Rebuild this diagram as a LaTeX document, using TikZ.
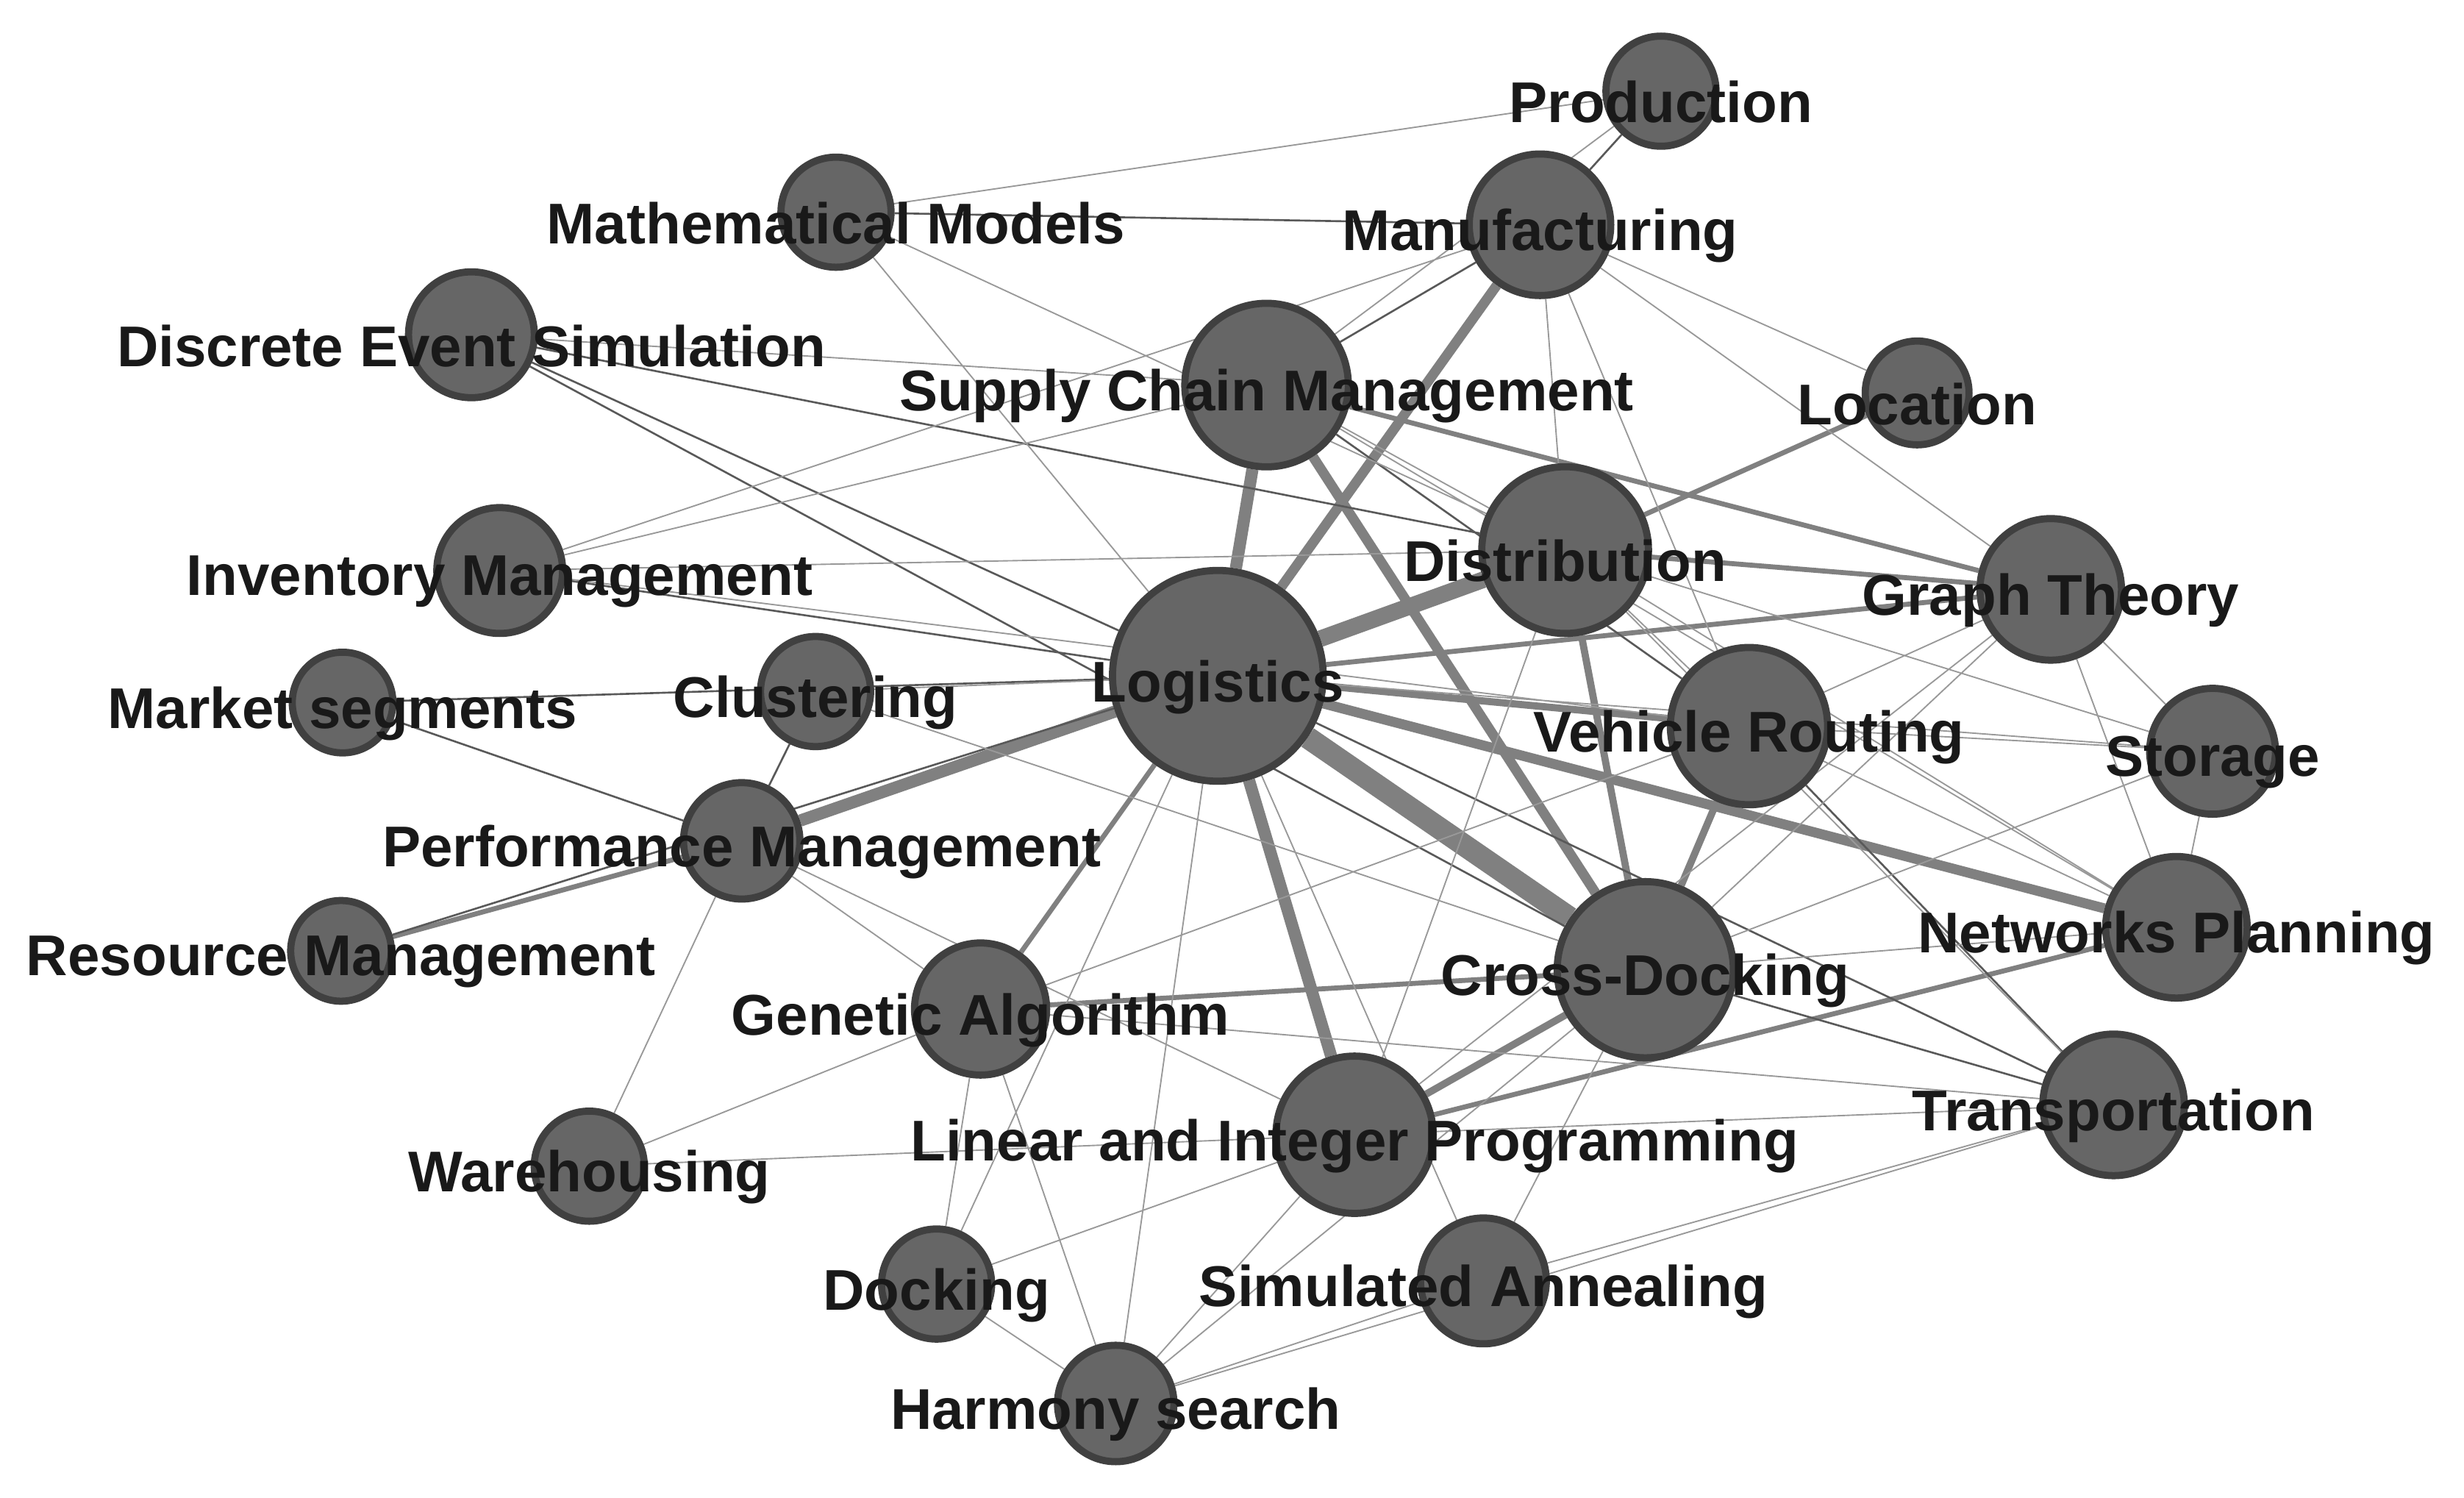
\documentclass[tikz,border=0pt]{standalone}
\usepackage{fontspec}
\setmainfont{Liberation Sans}
\usetikzlibrary{backgrounds}
\begin{document}
\begin{tikzpicture}[x=0.01cm,y=-0.01cm,
  v/.style={circle,fill=black!60,draw=black!75,line width=1.3pt,inner sep=0pt,minimum size=#1*0.02cm},
  lab/.style={font=\bfseries\fontsize{10.4}{12}\selectfont,text=black!90,inner sep=0pt,yshift=-0.07cm},
  e/.style={draw=black!40,line width=0.25pt},
  ed/.style={draw=black!65,line width=0.35pt},
  w/.style={draw=black!50,line width=#1}]
\useasboundingbox (0,0) rectangle (1568,953);
\node[v=35] (prod) at (1057,58) {};
\node[v=35] (math) at (532,135) {};
\node[v=45] (manu) at (980,143) {};
\node[v=40] (des) at (300,213) {};
\node[v=52] (scm) at (806,245) {};
\node[v=33] (loc) at (1220,250) {};
\node[v=40] (inv) at (318,363) {};
\node[v=53] (dist) at (996,350) {};
\node[v=45] (graph) at (1305,375) {};
\node[v=67] (log) at (775,430) {};
\node[v=35] (clus) at (519,440) {};
\node[v=32] (mkt) at (218,447) {};
\node[v=50] (vr) at (1113,462) {};
\node[v=40] (stor) at (1408,478) {};
\node[v=37] (perf) at (472,535) {};
\node[v=45] (net) at (1385,590) {};
\node[v=32] (res) at (217,605) {};
\node[v=56] (cd) at (1047,617) {};
\node[v=42] (ga) at (624,642) {};
\node[v=45] (trans) at (1345,703) {};
\node[v=50] (lip) at (862,722) {};
\node[v=35] (wh) at (375,742) {};
\node[v=35] (dock) at (596,817) {};
\node[v=40] (sa) at (944,815) {};
\node[v=37] (hs) at (710,893) {};
\begin{pgfonlayer}{background}
\draw[w=4pt,draw=black!50] (log)--(cd);
\draw[w=3pt] (log)--(dist);
\draw[w=2.2pt] (log)--(perf) (log)--(scm) (log)--(lip);
\draw[w=1.8pt] (log)--(manu) (scm)--(cd) (log)--(net);
\draw[w=1.3pt] (dist)--(cd) (vr)--(cd) (lip)--(cd) (log)--(vr);
\draw[w=0.9pt] (log)--(graph) (log)--(ga) (ga)--(cd) (scm)--(graph) (dist)--(loc) (dist)--(graph) (lip)--(net) (res)--(perf);
\draw[ed] (math)--(manu) (des)--(log) (des)--(cd) (des)--(dist) (inv)--(log) (mkt)--(log) (mkt)--(perf)
 (res)--(log) (scm)--(vr) (log)--(trans) (cd)--(trans) (vr)--(trans) (manu)--(scm) (manu)--(prod) (clus)--(perf);
\draw[e] (prod)--(math) (prod)--(scm) (manu)--(loc) (manu)--(dist) (manu)--(vr) (manu)--(inv) (manu)--(graph)
 (math)--(log) (inv)--(dist) (inv)--(scm) (inv)--(vr) (clus)--(cd) (clus)--(log) (perf)--(wh) (perf)--(lip)
 (wh)--(lip) (wh)--(ga) (ga)--(dock) (ga)--(hs) (ga)--(trans) (ga)--(vr) (dock)--(log) (dock)--(lip) (hs)--(lip)
 (hs)--(log) (hs)--(sa) (hs)--(trans) (hs)--(cd) (sa)--(cd) (sa)--(trans) (sa)--(log) (lip)--(trans) (cd)--(net)
 (cd)--(stor) (cd)--(graph) (vr)--(net) (vr)--(stor) (graph)--(stor) (graph)--(net) (graph)--(lip) (stor)--(net)
 (dist)--(trans) (dist)--(vr) (dist)--(stor) (scm)--(dist) (scm)--(net) (log)--(stor) (des)--(scm) (math)--(dist)
 (ga)--(perf) (lip)--(dist) (dock)--(hs) (graph)--(vr) (dist)--(net) (log)--(sa);
\end{pgfonlayer}
\node[lab] at (prod) {Production};
\node[lab] at (math) {Mathematical Models};
\node[lab] at (manu) {Manufacturing};
\node[lab] at (des) {Discrete Event Simulation};
\node[lab] at (scm) {Supply Chain Management};
\node[lab] at (loc) {Location};
\node[lab] at (inv) {Inventory Management};
\node[lab] at (dist) {Distribution};
\node[lab] at (graph) {Graph Theory};
\node[lab] at (log) {Logistics};
\node[lab] at (clus) {Clustering};
\node[lab] at (mkt) {Market segments};
\node[lab] at (vr) {Vehicle Routing};
\node[lab] at (stor) {Storage};
\node[lab] at (perf) {Performance Management};
\node[lab] at (net) {Networks Planning};
\node[lab] at (res) {Resource Management};
\node[lab] at (cd) {Cross-Docking};
\node[lab] at (ga) {Genetic Algorithm};
\node[lab] at (trans) {Transportation};
\node[lab] at (lip) {Linear and Integer Programming};
\node[lab] at (wh) {Warehousing};
\node[lab] at (dock) {Docking};
\node[lab] at (sa) {Simulated Annealing};
\node[lab] at (hs) {Harmony search};
\end{tikzpicture}
\end{document}
